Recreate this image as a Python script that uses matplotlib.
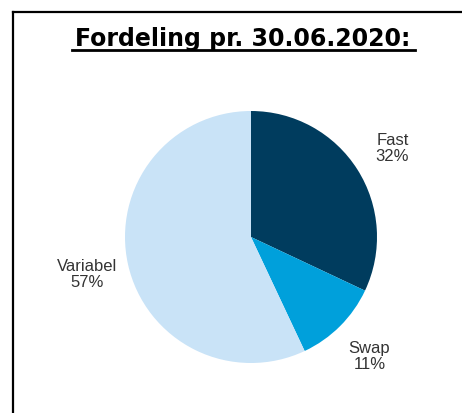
import matplotlib.pyplot as plt
import matplotlib.lines as mlines

labels = ['Fast', 'Swap', 'Variabel']
shares = [32, 11, 57]
colors = ['#003c5e', '#00a0db', '#c9e3f7']

fig = plt.figure(figsize=(4.62, 4.14), dpi=100)
W, H = 462.0, 414.0

# frame lines (top and left)
fig.add_artist(mlines.Line2D([12.5/W, 1], [1-12.5/H, 1-12.5/H], color='black', lw=1.6))
fig.add_artist(mlines.Line2D([12.5/W, 12.5/W], [0, 1-12.5/H], color='black', lw=1.6))

fig.text(243/W, 1-46/H, 'Fordeling pr. 30.06.2020:', ha='center', va='baseline',
         fontsize=17, fontweight='bold', family='DejaVu Sans')
fig.add_artist(mlines.Line2D([72/W, 415/W], [1-50.5/H, 1-50.5/H], color='black', lw=2))

cx, cy, r = 251, 238, 126
ax = fig.add_axes([(cx-r)/W, (H-cy-r)/H, 2*r/W, 2*r/H])
txt = [f'{l}\n{v}%' for l, v in zip(labels, shares)]
wedges, texts = ax.pie(shares, labels=txt, colors=colors, startangle=90,
                       counterclock=False, labeldistance=1.33,
                       textprops=dict(fontsize=12, color='#333333',
                                      family='Liberation Sans', linespacing=1.1))
for t in texts:
    t.set_ha('center')
    t.set_va('center')
ax.set_xlim(-1, 1)
ax.set_ylim(-1, 1)
ax.set_aspect('equal')

fig.savefig('out.png', dpi=100)
